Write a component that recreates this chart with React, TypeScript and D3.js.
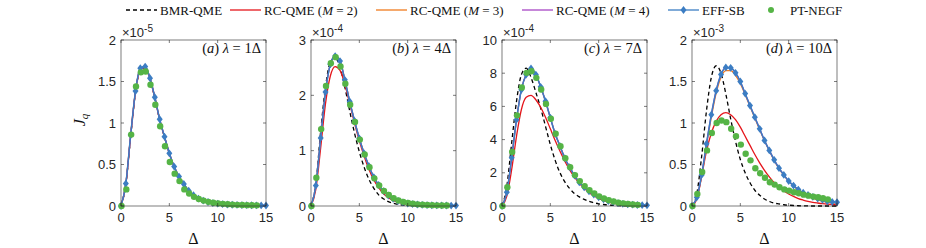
import React from 'react';
import * as d3 from 'd3';

// energy axis (units of Delta), 0.5 steps
const xGrid = d3.range(0, 15.01, 0.5);
const xNegf = d3.range(0, 14.01, 0.5);

// (a) lambda = 1 Delta, x1e-5
const aEff = [0, 0.27, 0.855, 1.385, 1.66, 1.68, 1.54, 1.31, 1.045, 0.835, 0.635, 0.475, 0.355, 0.265, 0.185, 0.13, 0.09, 0.065, 0.048, 0.035, 0.028, 0.022, 0.018, 0.015, 0.013, 0.011, 0.01, 0.009, 0.008, 0.007, 0.006];
const aRc = [0, 0.26, 0.84, 1.37, 1.64, 1.665, 1.53, 1.3, 1.04, 0.83, 0.63, 0.47, 0.35, 0.26, 0.18, 0.13, 0.09, 0.064, 0.047, 0.035, 0.027, 0.021, 0.017, 0.014, 0.012, 0.01, 0.009, 0.008, 0.007, 0.006, 0.005];
const aNegf = [0, 0.2, 0.86, 1.44, 1.61, 1.62, 1.46, 1.22, 0.96, 0.72, 0.53, 0.39, 0.3, 0.2, 0.15, 0.11, 0.085, 0.065, 0.05, 0.04, 0.032, 0.026, 0.021, 0.017, 0.014, 0.012, 0.01, 0.009, 0.008];

// (b) lambda = 4 Delta, x1e-4
const bEff = [0, 0.37, 1.23, 2.06, 2.56, 2.71, 2.62, 2.28, 1.89, 1.54, 1.22, 0.95, 0.72, 0.52, 0.38, 0.27, 0.19, 0.13, 0.09, 0.065, 0.045, 0.035, 0.027, 0.021, 0.017, 0.014, 0.012, 0.01, 0.009, 0.008, 0.007];
const bRc2 = [0, 0.3, 1.05, 1.85, 2.35, 2.52, 2.45, 2.2, 1.85, 1.5, 1.18, 0.9, 0.66, 0.47, 0.33, 0.22, 0.15, 0.1, 0.07, 0.045, 0.03, 0.02, 0.012, 0.008, 0.005, 0.003, 0.002, 0.001, 0.001, 0, 0];
const bBmr = [0, 0.4, 1.35, 2.15, 2.6, 2.68, 2.5, 2.15, 1.72, 1.32, 0.98, 0.7, 0.48, 0.32, 0.2, 0.13, 0.08, 0.05, 0.03, 0.018, 0.01, 0.005, 0.002, 0.001, 0, 0, 0, 0, 0, 0, 0];
const bNegf = [0, 0.51, 1.39, 2.17, 2.58, 2.69, 2.52, 2.21, 1.83, 1.52, 1.2, 0.93, 0.7, 0.5, 0.37, 0.27, 0.2, 0.14, 0.1, 0.075, 0.055, 0.04, 0.03, 0.024, 0.019, 0.015, 0.012, 0.01, 0.008];

// (c) lambda = 7 Delta, x1e-4
const cEff = [0, 0.83, 2.9, 5.2, 7.0, 7.92, 8.29, 7.92, 7.18, 6.31, 5.32, 4.35, 3.61, 2.88, 2.34, 1.83, 1.43, 1.13, 0.89, 0.69, 0.52, 0.4, 0.3, 0.23, 0.17, 0.13, 0.1, 0.08, 0.06, 0.05, 0.04];
const cRc2 = [0, 0.6, 2.2, 4.2, 5.8, 6.55, 6.67, 6.4, 5.95, 5.35, 4.65, 3.95, 3.3, 2.7, 2.18, 1.74, 1.37, 1.07, 0.82, 0.62, 0.46, 0.34, 0.25, 0.18, 0.13, 0.09, 0.06, 0.04, 0.03, 0.02, 0.01];
const cBmr = [0, 1.2, 3.8, 6.3, 7.9, 8.3, 7.75, 6.85, 5.9, 4.8, 3.7, 2.75, 2.0, 1.45, 1.05, 0.75, 0.55, 0.4, 0.28, 0.2, 0.13, 0.09, 0.06, 0.04, 0.02, 0.01, 0.005, 0, 0, 0, 0];
const cNegf = [0, 1.13, 3.25, 5.46, 7.14, 8.02, 8.12, 7.72, 7.02, 6.15, 5.26, 4.35, 3.6, 2.88, 2.34, 1.86, 1.5, 1.2, 0.95, 0.75, 0.58, 0.45, 0.35, 0.27, 0.2, 0.16, 0.12, 0.09, 0.07];

// (d) lambda = 10 Delta, x1e-3
const dEff = [0, 0.105, 0.375, 0.75, 1.1, 1.39, 1.585, 1.67, 1.665, 1.605, 1.5, 1.355, 1.21, 1.07, 0.93, 0.79, 0.67, 0.556, 0.456, 0.375, 0.3, 0.246, 0.198, 0.16, 0.133, 0.11, 0.089, 0.073, 0.056, 0.05, 0.045];
const dRc3 = [0, 0.1, 0.36, 0.73, 1.07, 1.36, 1.55, 1.63, 1.63, 1.575, 1.475, 1.34, 1.2, 1.06, 0.92, 0.785, 0.665, 0.55, 0.45, 0.37, 0.3, 0.24, 0.19, 0.15, 0.12, 0.095, 0.075, 0.06, 0.047, 0.037, 0.03];
const dRc2 = [0, 0.08, 0.36, 0.66, 0.88, 1.02, 1.1, 1.125, 1.1, 1.04, 0.95, 0.84, 0.73, 0.62, 0.52, 0.43, 0.35, 0.28, 0.225, 0.18, 0.145, 0.115, 0.09, 0.072, 0.057, 0.045, 0.036, 0.028, 0.022, 0.018, 0.014];
const dBmr = [0, 0.15, 0.6, 1.15, 1.55, 1.69, 1.6, 1.35, 1.05, 0.78, 0.56, 0.4, 0.28, 0.19, 0.13, 0.085, 0.055, 0.035, 0.025, 0.015, 0.01, 0.006, 0.003, 0.002, 0.001, 0, 0, 0, 0, 0, 0];
const dNegf = [0, 0.145, 0.41, 0.67, 0.88, 1.0, 1.03, 1.01, 0.93, 0.84, 0.74, 0.63, 0.55, 0.455, 0.395, 0.34, 0.286, 0.258, 0.226, 0.2, 0.185, 0.165, 0.153, 0.137, 0.125, 0.113, 0.105, 0.093, 0.08];

const panelLabels = ['a', 'b', 'c', 'd'];
const lambdaValues = ['1', '4', '7', '10'];
const yMaxes = [2, 3, 10, 2];
const yTickSets = [[0, 0.5, 1, 1.5, 2], [0, 1, 2, 3], [0, 2, 4, 6, 8, 10], [0, 0.5, 1, 1.5, 2]];
const exponents = ['-5', '-4', '-4', '-3'];
const xTicks = [0, 5, 10, 15];

const series = [
  { bmr: aRc, rc2: aRc, rc3: aEff, rc4: aEff, eff: aEff, negf: aNegf },
  { bmr: bBmr, rc2: bRc2, rc3: bEff, rc4: bEff, eff: bEff, negf: bNegf },
  { bmr: cBmr, rc2: cRc2, rc3: cEff, rc4: cEff, eff: cEff, negf: cNegf },
  { bmr: dBmr, rc2: dRc2, rc3: dRc3, rc4: dEff, eff: dEff, negf: dNegf },
];

const C = {
  bmr: '#000000',
  rc2: '#E5151B',
  rc3: '#F07A1E',
  rc4: '#A846C4',
  eff: '#3C7DC3',
  negf: '#55B446',
  axis: '#262626',
};

const panelLefts = [121, 311, 502, 692];
const panelW = 145;
const top = 40;
const bottom = 206;
const serif = '"Liberation Serif", "DejaVu Serif", serif';
const sans = '"Liberation Sans", Arial, sans-serif';

const diamond = (cx: number, cy: number) =>
  `M${cx},${cy - 3.9}L${cx + 3},${cy}L${cx},${cy + 3.9}L${cx - 3},${cy}Z`;

function Panel({ i }: { i: number }) {
  const left = panelLefts[i];
  const x = d3.scaleLinear().domain([0, 15]).range([left, left + panelW]);
  const y = d3.scaleLinear().domain([0, yMaxes[i]]).range([bottom, top]);
  const s = series[i];
  const line = (vals: number[], xs: number[]) =>
    d3.line<number>()
      .x((_, k) => x(xs[k]))
      .y((v) => y(v))
      .curve(d3.curveMonotoneX)(vals) || '';
  const fmt = d3.format('~g');
  const tl = 3;
  return (
    <g>
      <defs>
        <clipPath id={`clip${i}`}>
          <rect x={left} y={top - 4} width={panelW + 4} height={bottom - top + 8} />
        </clipPath>
      </defs>
      <g clipPath={`url(#clip${i})`} fill="none" strokeWidth={1.3}>
        <path d={line(s.bmr, xGrid)} stroke={C.bmr} strokeDasharray="4,3" />
        <path d={line(s.rc2, xGrid)} stroke={C.rc2} />
        <path d={line(s.rc3, xGrid)} stroke={C.rc3} />
        <path d={line(s.rc4, xGrid)} stroke={C.rc4} />
        <path d={line(s.eff, xGrid)} stroke={C.eff} strokeWidth={1.5} />
      </g>
      {s.eff.map((v, k) => (
        <path key={'e' + k} d={diamond(x(xGrid[k]), y(v))} fill={C.eff} />
      ))}
      {s.negf.map((v, k) => (
        <circle key={'n' + k} cx={x(xNegf[k]) + 0.5} cy={y(v)} r={3.2} fill={C.negf} />
      ))}
      {/* box and ticks */}
      <rect x={left} y={top} width={panelW} height={bottom - top} fill="none" stroke={C.axis} strokeWidth={0.6} />
      {xTicks.map((t) => (
        <g key={'xt' + t}>
          <line x1={x(t)} x2={x(t)} y1={bottom} y2={bottom - tl} stroke={C.axis} strokeWidth={0.6} />
          <line x1={x(t)} x2={x(t)} y1={top} y2={top + tl} stroke={C.axis} strokeWidth={0.6} />
          <text x={x(t)} y={bottom + 16} textAnchor="middle" fontFamily={sans} fontSize={13} fill={C.axis}>
            {t}
          </text>
        </g>
      ))}
      {yTickSets[i].map((t) => (
        <g key={'yt' + t}>
          <line x1={left} x2={left + tl} y1={y(t)} y2={y(t)} stroke={C.axis} strokeWidth={0.6} />
          <line x1={left + panelW} x2={left + panelW - tl} y1={y(t)} y2={y(t)} stroke={C.axis} strokeWidth={0.6} />
          <text x={left - 5} y={y(t) + 4.5} textAnchor="end" fontFamily={sans} fontSize={13} fill={C.axis}>
            {fmt(t)}
          </text>
        </g>
      ))}
      <text x={left + 1} y={37} fontFamily={sans} fontSize={13} fill={C.axis}>
        ×10
        <tspan dy={-5} fontSize={10}>{exponents[i]}</tspan>
      </text>
      <text x={left + panelW - 5} y={53} textAnchor="end" fontFamily={serif} fontSize={14.5} fill="#111">
        (<tspan fontStyle="italic">{panelLabels[i]}</tspan>) <tspan fontStyle="italic">λ</tspan> = {lambdaValues[i]}Δ
      </text>
      <text x={left + panelW / 2} y={244} textAnchor="middle" fontFamily={serif} fontSize={16} fill="#111">
        Δ
      </text>
    </g>
  );
}

const legendItems = [
  { key: 'bmr', label: 'BMR-QME', m: '', x: 126 },
  { key: 'rc2', label: 'RC-QME (', m: '2', x: 230 },
  { key: 'rc3', label: 'RC-QME (', m: '3', x: 376 },
  { key: 'rc4', label: 'RC-QME (', m: '4', x: 522 },
  { key: 'eff', label: 'EFF-SB', m: '', x: 668 },
  { key: 'negf', label: 'PT-NEGF', m: '', x: 756 },
];

function Legend() {
  const ly = 10;
  return (
    <g>
      {legendItems.map((it) => {
        const col = (C as any)[it.key];
        return (
          <g key={it.key}>
            {it.key === 'negf' ? (
              <circle cx={it.x + 15} cy={ly} r={3} fill={col} />
            ) : (
              <line
                x1={it.x}
                x2={it.x + 31}
                y1={ly}
                y2={ly}
                stroke={col}
                strokeWidth={1.3}
                strokeDasharray={it.key === 'bmr' ? '4,3' : undefined}
              />
            )}
            {it.key === 'eff' && <path d={diamond(it.x + 15.5, ly)} fill={col} />}
            <text x={it.x + 34} y={ly + 4.5} fontFamily={serif} fontSize={13} fill="#111">
              {it.label}
              {it.m && (
                <>
                  <tspan fontStyle="italic">M</tspan> = {it.m})
                </>
              )}
            </text>
          </g>
        );
      })}
    </g>
  );
}

export default function App() {
  return (
    <svg
      width={926}
      height={248}
      style={{ position: 'absolute', left: 0, top: 0, background: '#fff' }}
    >
      <Legend />
      {panelLefts.map((_, i) => (
        <Panel key={i} i={i} />
      ))}
      <text transform="translate(85,120) rotate(-90)" textAnchor="middle" fontFamily={serif} fontSize={16} fill="#111">
        <tspan fontStyle="italic">J</tspan>
        <tspan fontStyle="italic" fontSize={11} dy={3}>q</tspan>
      </text>
    </svg>
  );
}
